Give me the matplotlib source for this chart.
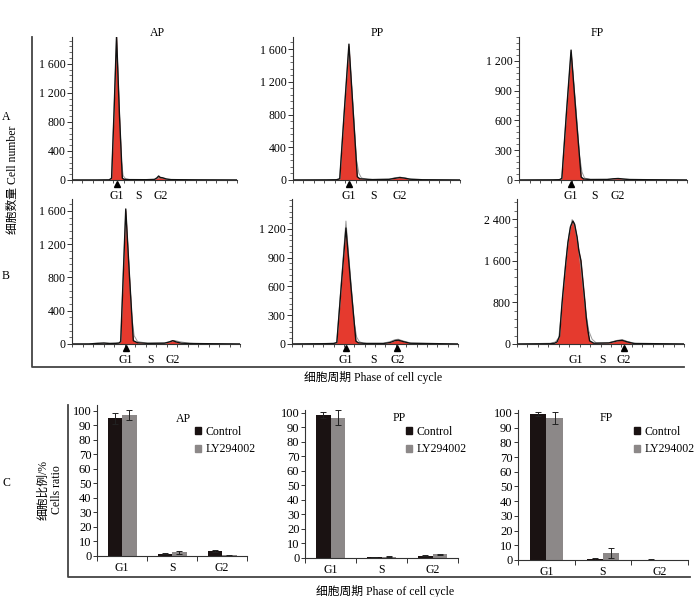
import matplotlib
matplotlib.use('Agg')
import matplotlib.pyplot as plt
from matplotlib.ticker import AutoMinorLocator, MultipleLocator
from matplotlib.lines import Line2D
from matplotlib.patches import Patch
import numpy as np

plt.rcParams['font.family'] = ['Liberation Serif', 'Noto Sans CJK SC']
plt.rcParams['font.size'] = 8

# ---------------- data: flow cytometry histograms ----------------
phase_names = ['G1', 'S', 'G2']

# Row A
AP_A_x = [0, 30, 45, 48, 51, 54, 57.5, 61, 63, 70, 90, 100, 103, 105, 107, 110, 114, 120, 150, 200]
AP_A_y = [0, 0, 2, 25, 950, 1985, 900, 25, 10, 5, 4, 8, 30, 55, 35, 30, 15, 5, 2, 0]
AP_A_fit_x = [0, 46, 48, 51, 54, 57.5, 60, 62, 65, 70, 100, 104, 107, 110, 115, 200]
AP_A_fit_y = [0, 2, 25, 950, 1960, 950, 250, 60, 15, 5, 8, 25, 30, 25, 8, 0]

PP_A_x = [0, 40, 52, 56, 61.5, 67, 72, 77, 80, 95, 115, 122, 128, 134, 140, 155, 200]
PP_A_y = [0, 1, 3, 15, 850, 1660, 850, 40, 15, 5, 8, 20, 30, 22, 10, 3, 0]
PP_A_fit_x = [0, 54, 56, 61.5, 67, 72, 76, 79, 82, 90, 115, 122, 128, 134, 142, 200]
PP_A_fit_y = [0, 5, 20, 850, 1630, 880, 250, 80, 25, 5, 10, 28, 35, 25, 8, 0]

FP_A_x = [0, 40, 48, 51, 56.5, 62, 68, 74, 77, 85, 105, 112, 118, 124, 132, 200]
FP_A_y = [0, 1, 3, 15, 680, 1310, 650, 30, 10, 5, 5, 12, 15, 10, 4, 0]
FP_A_fit_x = [0, 49, 51, 56.5, 62, 68, 72, 75, 78, 85, 110, 118, 126, 200]
FP_A_fit_y = [0, 5, 20, 680, 1290, 700, 250, 80, 20, 5, 8, 14, 8, 0]

# Row B
AP_B_x = [0, 20, 30, 38, 45, 52, 56, 58, 61, 64, 68.5, 73, 78, 90, 110, 116, 120, 124, 130, 145, 200]
AP_B_y = [0, 0, 8, 12, 6, 8, 12, 30, 820, 1624, 800, 40, 15, 8, 10, 25, 40, 25, 10, 5, 0]
AP_B_fit_x = [0, 56, 58, 61, 64, 68.5, 71, 74, 78, 90, 112, 118, 122, 128, 140, 200]
AP_B_fit_y = [0, 10, 30, 820, 1600, 820, 350, 100, 30, 8, 12, 35, 42, 28, 8, 0]

PP_B_x = [0, 40, 50, 54, 59.5, 65, 71, 77, 80, 90, 110, 118, 124, 128, 134, 142, 200]
PP_B_y = [0, 3, 5, 15, 620, 1210, 600, 30, 12, 5, 5, 15, 35, 40, 25, 8, 0]
PP_B_fit_x = [0, 52, 54, 59.5, 65, 71, 75, 78, 81, 86, 110, 118, 124, 128, 134, 144, 200]
PP_B_fit_y = [0, 8, 20, 660, 1283, 640, 220, 70, 25, 8, 8, 25, 45, 50, 32, 8, 0]

FP_B_x = [0, 40, 45, 48, 51, 54, 56, 58.7, 61, 62, 64, 67, 69, 72, 74, 76.6, 79, 81.4, 83, 85, 87, 92,
          110, 120, 126, 132, 140, 200]
FP_B_y = [0, 5, 15, 40, 150, 800, 1150, 1600, 1950, 2050, 2250, 2360, 2300, 2050, 1800, 1600, 1200, 800,
          500, 250, 60, 15, 20, 60, 70, 40, 10, 0]
FP_B_fit_x = [0, 40, 46, 50, 54, 58, 61, 63, 66, 68, 71, 74, 78, 82, 86, 90, 95, 110, 120, 126, 132, 142, 200]
FP_B_fit_y = [0, 15, 40, 120, 750, 1500, 1950, 2150, 2390, 2330, 2100, 1800, 1250, 650, 250, 90, 20,
              25, 70, 85, 50, 10, 0]

# phase label positions (channel) and marker positions
AP_A_phase = [54, 80, 107]
PP_A_phase = [67, 97, 128]
FP_A_phase = [62, 90, 117]
AP_B_phase = [64, 93, 120]
PP_B_phase = [65, 98, 127]
FP_B_phase = [70, 102, 128]
AP_A_marks = [54]
PP_A_marks = [67]
FP_A_marks = [62]
AP_B_marks = [64]
PP_B_marks = [65, 127]
FP_B_marks = [128]

# y-axis ticks
yt_400 = [0, 400, 800, 1200, 1600]
yl_400 = ['0', '400', '800', '1 200', '1 600']
yt_300 = [0, 300, 600, 900, 1200]
yl_300 = ['0', '300', '600', '900', '1 200']
yt_800 = [0, 800, 1600, 2400]
yl_800 = ['0', '800', '1 600', '2 400']

# ---------------- data: bar charts ----------------
AP_control = [95, 1.5, 3.5]
AP_control_err = [3.8, 0.3, 0.8]
AP_ly = [97, 2.5, 0.5]
AP_ly_err = [3.5, 0.8, 0.2]

PP_control = [98.8, 0.8, 1.5]
PP_control_err = [2, 0.2, 0.3]
PP_ly = [96.8, 1.0, 2.5]
PP_ly_err = [5, 0.3, 0.5]

FP_control = [99.4, 0.8, 0.3]
FP_control_err = [1.4, 0.6, 0.1]
FP_ly = [96.8, 4.8, 0.2]
FP_ly_err = [4, 3.7, 0.1]

RED = '#e53a2e'
CTRL_C = '#1a1212'
LY_C = '#8c8888'
LINE_C = '#333333'

W, H = 700, 597
fig = plt.figure(figsize=(7, 5.97), dpi=100)


def rect(x0, yt, x1, yb):
    return [x0 / W, 1 - yb / H, (x1 - x0) / W, (yb - yt) / H]


def ftext(x, y, s, **kw):
    fig.text(x / W, 1 - y / H, s, **kw)


def fline(xs, ys, lw=1.3):
    fig.add_artist(Line2D([x / W for x in xs], [1 - y / H for y in ys],
                          color='#444444', lw=lw, transform=fig.transFigure))


def hist_panel(r, x, y, fx, fy, ytop, yt, yl, phase, marks):
    ax = fig.add_axes(r)
    ax.fill_between(x, y, 0, color=RED, lw=0)
    ax.plot(fx, fy, color='#9a9a9a', lw=0.7)
    ax.plot(x, y, color='#111111', lw=1.0)
    ax.set_xlim(0, 200)
    ax.set_ylim(0, ytop)
    for s in ['top', 'right']:
        ax.spines[s].set_visible(False)
    for s in ['left', 'bottom']:
        ax.spines[s].set_color(LINE_C)
        ax.spines[s].set_linewidth(0.8)
    ax.set_xticks(phase)
    ax.set_xticklabels(phase_names)
    ax.xaxis.set_minor_locator(MultipleLocator(12.5))
    ax.tick_params(axis='x', which='major', length=0, pad=7, labelsize=8.5)
    ax.tick_params(axis='x', which='minor', length=2.5, width=0.6, color=LINE_C)
    ax.set_yticks(yt)
    ax.set_yticklabels(yl)
    ax.yaxis.set_minor_locator(AutoMinorLocator(5))
    ax.tick_params(axis='y', which='major', length=3.5, width=0.7, pad=1, labelsize=8.5, color=LINE_C)
    ax.tick_params(axis='y', which='minor', length=2, width=0.5, color=LINE_C)
    ax.plot(marks, [-0.025] * len(marks), transform=ax.get_xaxis_transform(),
            ls='none', marker='^', ms=4, color='k', clip_on=False)
    ax.patch.set_alpha(0)
    return ax


# Row A
hist_panel(rect(72, 37, 237, 180), AP_A_x, AP_A_y, AP_A_fit_x, AP_A_fit_y, 1970, yt_400, yl_400, AP_A_phase, AP_A_marks)
hist_panel(rect(293, 37, 460, 180), PP_A_x, PP_A_y, PP_A_fit_x, PP_A_fit_y, 1747, yt_400, yl_400, PP_A_phase, PP_A_marks)
hist_panel(rect(519, 37, 687, 180), FP_A_x, FP_A_y, FP_A_fit_x, FP_A_fit_y, 1442, yt_300, yl_300, FP_A_phase, FP_A_marks)
# Row B
hist_panel(rect(72, 199, 240, 344), AP_B_x, AP_B_y, AP_B_fit_x, AP_B_fit_y, 1744, yt_400, yl_400, AP_B_phase, AP_B_marks)
hist_panel(rect(292, 199, 458, 344), PP_B_x, PP_B_y, PP_B_fit_x, PP_B_fit_y, 1513, yt_300, yl_300, PP_B_phase, PP_B_marks)
hist_panel(rect(517, 199, 684, 344), FP_B_x, FP_B_y, FP_B_fit_x, FP_B_fit_y, 2784, yt_800, yl_800, FP_B_phase, FP_B_marks)

ftext(157, 33, 'AP', ha='center', va='center', fontsize=8.5)
ftext(377, 33, 'PP', ha='center', va='center', fontsize=8.5)
ftext(597, 33, 'FP', ha='center', va='center', fontsize=8.5)


def bar_panel(r, ytop, ctrl, ctrl_err, ly, ly_err, title, title_xy, leg_xy, w=0.29):
    ax = fig.add_axes(r)
    x = np.arange(len(phase_names))
    ekw = dict(lw=0.7, capsize=2, capthick=0.7, ecolor='#222222')
    ax.bar(x - w / 2, ctrl, w, color=CTRL_C, yerr=ctrl_err, error_kw=ekw, label='Control')
    ax.bar(x + w / 2, ly, w, color=LY_C, yerr=ly_err, error_kw=ekw, label='LY294002')
    ax.set_xlim(-0.5, len(phase_names) - 0.5)
    ax.set_ylim(0, ytop)
    for s in ['top', 'right']:
        ax.spines[s].set_visible(False)
    for s in ['left', 'bottom']:
        ax.spines[s].set_color(LINE_C)
        ax.spines[s].set_linewidth(0.8)
    ax.set_xticks(x)
    ax.set_xticklabels(phase_names)
    ax.set_xticks(np.arange(-0.5, len(phase_names)), minor=True)
    ax.tick_params(axis='x', which='major', length=0, pad=4, labelsize=8.5)
    ax.tick_params(axis='x', which='minor', length=3.5, width=0.7, color=LINE_C)
    ax.set_yticks(np.arange(0, 101, 10))
    ax.tick_params(axis='y', length=3, width=0.7, pad=1, labelsize=9, color=LINE_C)
    ax.patch.set_alpha(0)
    ftext(title_xy[0], title_xy[1], title, ha='center', va='center', fontsize=8.5)
    handles = [Patch(color=CTRL_C), Patch(color=LY_C)]
    fig.legend(handles, ['Control', 'LY294002'], loc='upper left',
               bbox_to_anchor=(leg_xy[0] / W, 1 - leg_xy[1] / H),
               bbox_transform=fig.transFigure, frameon=False, fontsize=8.5,
               handlelength=0.55, handleheight=0.55, handletextpad=0.35,
               borderpad=0, borderaxespad=0, labelspacing=0.45)
    return ax


bar_panel(rect(97, 405, 247, 556), 104, AP_control, AP_control_err, AP_ly, AP_ly_err, 'AP', (183, 419), (195, 426))
bar_panel(rect(305, 410, 458, 558), 102, PP_control, PP_control_err, PP_ly, PP_ly_err, 'PP', (399, 418), (406, 426))
bar_panel(rect(518, 410, 688, 560), 102, FP_control, FP_control_err, FP_ly, FP_ly_err, 'FP', (606, 418), (634, 426))

# frame lines
fline([32, 32, 684], [37, 367, 367])
fline([68, 68, 690], [405, 577, 577])

# labels
ftext(6, 117, 'A', ha='center', va='center', fontsize=8.5)
ftext(6, 276, 'B', ha='center', va='center', fontsize=8.5)
ftext(6, 483, 'C', ha='center', va='center', fontsize=8.5)
ftext(13, 180, '细胞数量 Cell number', rotation=90, ha='center', va='center', fontsize=8.5)
ftext(43, 490, '细胞比例/%', rotation=90, ha='center', va='center', fontsize=8.5)
ftext(57, 490, 'Cells ratio', rotation=90, ha='center', va='center', fontsize=8.5)
ftext(373, 378, '细胞周期 Phase of cell cycle', ha='center', va='center', fontsize=8.5)
ftext(385, 592, '细胞周期 Phase of cell cycle', ha='center', va='center', fontsize=8.5)

fig.savefig('out.png', dpi=100)
